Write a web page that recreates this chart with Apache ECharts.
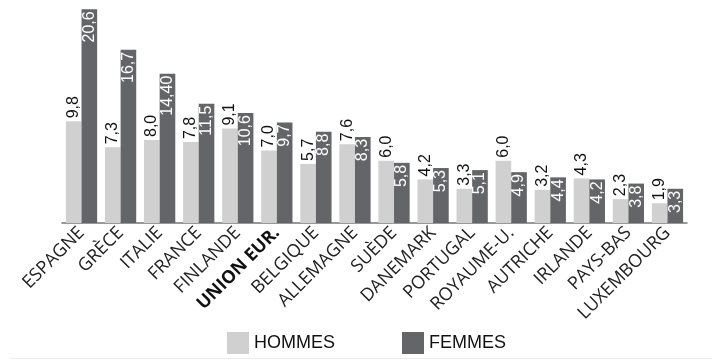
<!DOCTYPE html>
<html>
<head>
<meta charset="utf-8">
<script src="https://cdn.jsdelivr.net/npm/echarts@6/dist/echarts.min.js"></script>
<style>
  html, body { margin: 0; padding: 0; background: #ffffff; }
  #chart { width: 712px; height: 360px; }
</style>
</head>
<body>
<div id="chart"></div>
<script>
// Countries along the x axis
const countries = ['ESPAGNE', 'GRÈCE', 'ITALIE', 'FRANCE', 'FINLANDE', 'UNION EUR.', 'BELGIQUE', 'ALLEMAGNE',
  'SUÈDE', 'DANEMARK', 'PORTUGAL', 'ROYAUME-U.', 'AUTRICHE', 'IRLANDE', 'PAYS-BAS', 'LUXEMBOURG'];
// Rates for men and women (%)
const hommes = [9.8, 7.3, 8.0, 7.8, 9.1, 7.0, 5.7, 7.6, 6.0, 4.2, 3.3, 6.0, 3.2, 4.3, 2.3, 1.9];
const femmes = [20.6, 16.7, 14.4, 11.5, 10.6, 9.7, 8.8, 8.3, 5.8, 5.3, 5.1, 4.9, 4.4, 4.2, 3.8, 3.3];
// Printed labels (French decimal comma)
const hommesLabels = ['9,8', '7,3', '8,0', '7,8', '9,1', '7,0', '5,7', '7,6', '6,0', '4,2', '3,3', '6,0', '3,2', '4,3', '2,3', '1,9'];
const femmesLabels = ['20,6', '16,7', '14,40', '11,5', '10,6', '9,7', '8,8', '8,3', '5,8', '5,3', '5,1', '4,9', '4,4', '4,2', '3,8', '3,3'];

const chart = echarts.init(document.getElementById('chart'), null, { renderer: 'canvas' });

chart.setOption({
  backgroundColor: '#ffffff',
  animation: false,
  grid: { left: 62, right: 25, top: 0, bottom: 137, containLabel: false },
  graphic: [{
    type: 'line',
    shape: { x1: 10, y1: 358.5, x2: 712, y2: 358.5 },
    style: { stroke: '#ececec', lineWidth: 1 },
    silent: true
  }],
  legend: {
    bottom: 6,
    left: 227,
    padding: 0,
    itemWidth: 22,
    itemHeight: 22,
    itemGap: 67,
    icon: 'rect',
    textStyle: { fontFamily: 'Liberation Sans', fontSize: 18, color: '#111111', padding: [3, 0, 0, 0] },
    data: ['HOMMES', 'FEMMES']
  },
  xAxis: {
    type: 'category',
    data: countries,
    axisLine: { lineStyle: { color: '#777777', width: 1.5 } },
    axisTick: { show: false },
    axisLabel: {
      interval: 0,
      rotate: 45,
      margin: 7,
      fontFamily: 'Open Sans',
      fontSize: 18,
      color: '#222222',
      formatter: function (v) { return v === 'UNION EUR.' ? '{b|' + v + '}' : v; },
      rich: { b: { fontFamily: 'Open Sans', fontSize: 18, fontWeight: 'bold', color: '#111111' } }
    }
  },
  yAxis: {
    type: 'value',
    min: 0,
    max: 21.5,
    show: false,
    splitLine: { show: false }
  },
  series: [
    {
      name: 'HOMMES',
      type: 'bar',
      data: hommes,
      barGap: '0%',
      barCategoryGap: '20%',
      itemStyle: { color: '#d0d0d0' },
      label: {
        show: true,
        position: 'top',
        rotate: 90,
        align: 'left',
        verticalAlign: 'middle',
        distance: 3,
        fontFamily: 'Liberation Sans',
        fontSize: 16,
        color: '#111111',
        formatter: function (p) { return hommesLabels[p.dataIndex]; }
      }
    },
    {
      name: 'FEMMES',
      type: 'bar',
      data: femmes,
      itemStyle: { color: '#646568' },
      label: {
        show: true,
        position: 'insideTop',
        rotate: 90,
        align: 'right',
        verticalAlign: 'middle',
        distance: 2,
        fontFamily: 'Liberation Sans',
        fontSize: 16,
        color: '#ffffff',
        formatter: function (p) { return femmesLabels[p.dataIndex]; }
      }
    }
  ]
});
</script>
</body>
</html>
